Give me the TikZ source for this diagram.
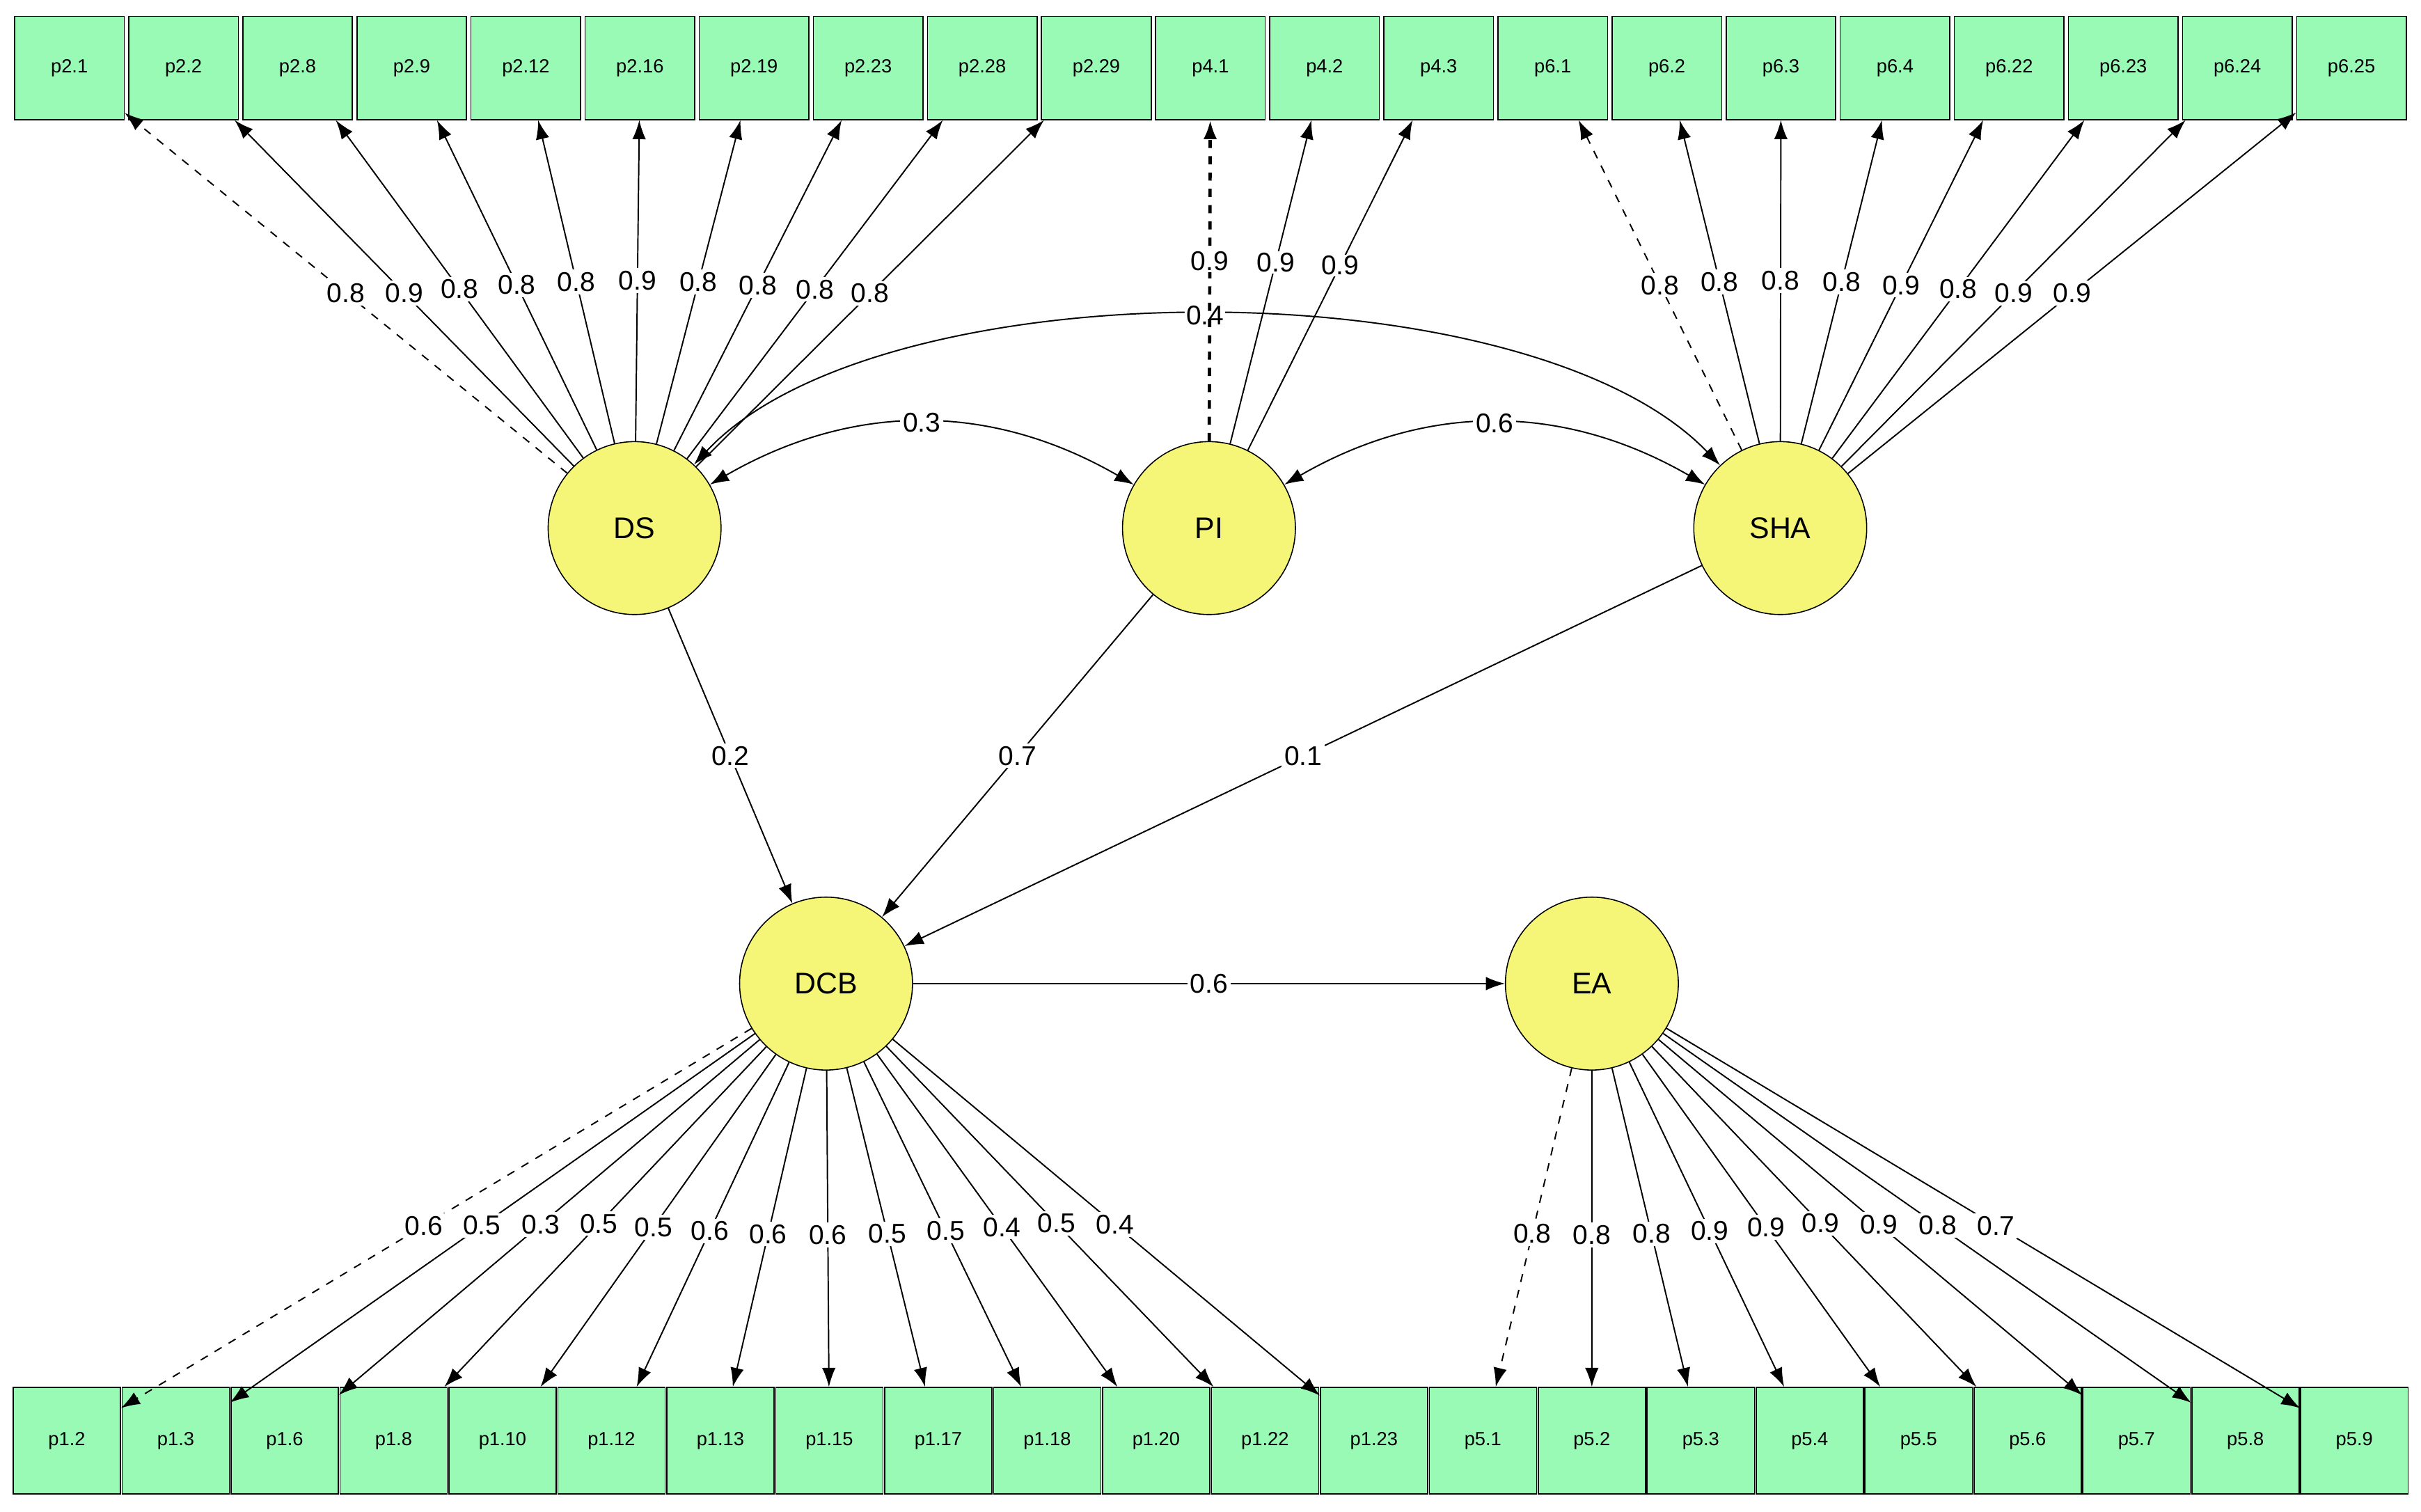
\documentclass[tikz,border=0pt]{standalone}
\usepackage{fontspec}
\setmainfont{Liberation Sans}
\usetikzlibrary{arrows.meta}
\definecolor{boxg}{RGB}{152,250,180}
\definecolor{cyel}{RGB}{245,245,120}
\begin{document}
\begin{tikzpicture}[x=0.02cm,y=-0.02cm,
 box/.style={draw,fill=boxg,minimum width=1.42cm,minimum height=1.34cm,inner sep=0pt,font=\fontsize{7}{8}\selectfont},
 bbox/.style={draw,fill=boxg,minimum width=1.39cm,minimum height=1.38cm,inner sep=0pt,font=\fontsize{7}{8}\selectfont},
 lat/.style={draw,circle,fill=cyel,minimum size=2.24cm,inner sep=0pt,font=\fontsize{11}{12}\selectfont},
 ar/.style={-{Latex[length=7pt,width=5pt]},line width=0.5pt},
 dar/.style={ar,dashed},
 lab/.style={fill=white,inner sep=1pt,font=\fontsize{10}{11}\selectfont}]
\useasboundingbox (0,0) rectangle (1568,979);
\foreach \n [count=\i from 0] in {p2.1,p2.2,p2.8,p2.9,p2.12,p2.16,p2.19,p2.23,p2.28,p2.29,p4.1,p4.2,p4.3,p6.1,p6.2,p6.3,p6.4,p6.22,p6.23,p6.24,p6.25}
  \node[box] (t\i) at ({8+73.9*(\i+0.5)},44) {\n};
\foreach \n [count=\i from 0] in {p1.2,p1.3,p1.6,p1.8,p1.10,p1.12,p1.13,p1.15,p1.17,p1.18,p1.20,p1.22,p1.23,p5.1,p5.2,p5.3,p5.4,p5.5,p5.6,p5.7,p5.8,p5.9}
  \node[bbox] (b\i) at ({8+70.55*(\i+0.5)},933) {\n};
\node[lat] (DS) at (411,342) {DS};
\node[lat] (PI) at (783,342) {PI};
\node[lat] (SHA) at (1153,342) {SHA};
\node[lat] (DCB) at (535,637) {DCB};
\node[lat] (EA) at (1031,637) {EA};
% covariances
\draw[ar,{Latex[length=7pt,width=5pt]}-{Latex[length=7pt,width=5pt]}] (DS) .. controls (570,172) and (990,172) .. node[lab,pos=0.5,inner sep=0.5pt]{0.4} (SHA);
\draw[ar,{Latex[length=7pt,width=5pt]}-{Latex[length=7pt,width=5pt]}] (DS) to[bend left=30] node[lab]{0.3} (PI);
\draw[ar,{Latex[length=7pt,width=5pt]}-{Latex[length=7pt,width=5pt]}] (PI) to[bend left=30] node[lab]{0.6} (SHA);
% DS loadings
\draw[dar] (DS) -- node[lab,pos=0.5]{0.8} (t0);
\foreach \i/\v in {1/0.9,2/0.8,3/0.8,4/0.8,5/0.9,6/0.8,7/0.8,8/0.8,9/0.8}
  \draw[ar] (DS) -- node[lab,pos=0.5]{\v} (t\i);
% PI loadings
\draw[dar,line width=1.2pt] (PI) -- node[lab,pos=0.56,inner sep=0.5pt]{0.9} (t10);
\foreach \i/\v in {11/0.9,12/0.9}
  \draw[ar] (PI) -- node[lab,pos=0.56,inner sep=0.5pt]{\v} (t\i);
% SHA loadings
\draw[dar] (SHA) -- node[lab,pos=0.5]{0.8} (t13);
\foreach \i/\v in {14/0.8,15/0.8,16/0.8,17/0.9,18/0.8,19/0.9,20/0.9}
  \draw[ar] (SHA) -- node[lab,pos=0.5]{\v} (t\i);
% DCB loadings
\draw[dar] (DCB) -- node[lab,pos=0.52]{0.6} (b0);
\foreach \i/\v in {1/0.5,2/0.3,3/0.5,4/0.5,5/0.6,6/0.6,7/0.6,8/0.5,9/0.5,10/0.4,11/0.5,12/0.4}
  \draw[ar] (DCB) -- node[lab,pos=0.52]{\v} (b\i);
% EA loadings
\draw[dar] (EA) -- node[lab,pos=0.52]{0.8} (b13);
\foreach \i/\v in {14/0.8,15/0.8,16/0.9,17/0.9,18/0.9,19/0.9,20/0.8,21/0.7}
  \draw[ar] (EA) -- node[lab,pos=0.52]{\v} (b\i);
% paths
\draw[ar] (DS) -- node[lab]{0.2} (DCB);
\draw[ar] (PI) -- node[lab]{0.7} (DCB);
\draw[ar] (SHA) -- node[lab]{0.1} (DCB);
\draw[ar] (DCB) -- node[lab]{0.6} (EA);
\end{tikzpicture}
\end{document}
